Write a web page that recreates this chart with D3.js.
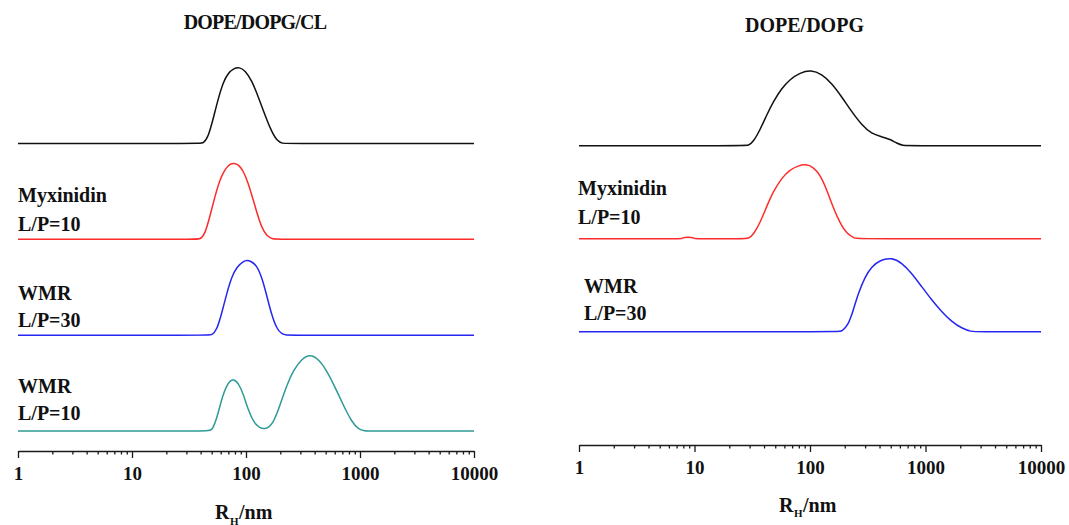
<!DOCTYPE html>
<html>
<head>
<meta charset="utf-8">
<script src="https://cdn.jsdelivr.net/npm/d3@7"></script>
<style>
  html, body { margin: 0; padding: 0; background: #fff; }
  svg { display: block; }
  text { font-family: "Liberation Serif", "Times New Roman", serif; font-weight: bold; fill: #111; }
</style>
</head>
<body>
<svg id="chart" width="1069" height="525"></svg>
<script>
// Hydrodynamic radius distributions (R_H, nm) — intensity in relative units
const panelTitles = ["DOPE/DOPG/CL", "DOPE/DOPG"];
const majorTicks = [1, 10, 100, 1000, 10000];
const minorSteps = [2, 3, 4, 5, 6, 7, 8, 9];

// DOPE/DOPG/CL
const cl_vesicle_rh = [1, 39, 42.2, 46.7, 51.6, 57.1, 63.2, 69.9, 77.4, 87.4, 98, 112.2, 128.3, 146.8, 168, 188.2, 209.9, 227, 10000];
const cl_vesicle_int = [0, 0, 0, 8.8, 33.3, 60, 82.1, 94.1, 100, 102.1, 97.7, 84.4, 62.1, 37.7, 15.5, 3.1, 0, 0, 0];

const cl_myx10_rh = [1, 36.5, 39.5, 43.7, 48.3, 53.5, 59.1, 65.4, 71.5, 78.8, 86.5, 95, 104, 114, 125, 137.3, 151.9, 173.5, 188, 10000];
const cl_myx10_int = [0, 0, 0, 6.7, 31.1, 57.7, 80, 93.5, 100.5, 102, 99.5, 91, 76, 56, 35, 15.6, 4.4, 0, 0, 0];

const cl_wmr30_rh = [1, 46.2, 50.1, 55.4, 61.2, 67.7, 74.9, 82.8, 94.7, 102, 110.6, 124.1, 137.3, 151.9, 168, 185.8, 205.6, 227.5, 246, 10000];
const cl_wmr30_int = [0, 0, 0, 6.7, 28.9, 55.6, 77.7, 91.1, 98.7, 100, 98.7, 93.3, 77.7, 53.3, 26.7, 8.9, 1.3, 0, 0, 0];

const cl_wmr10_rh = [1, 46.2, 50.1, 55.4, 61.2, 67.7, 76.4, 85.6, 94.7, 104.7, 119.9, 146.8, 173.5, 198.7, 227.5, 260.1, 308.2, 364.2, 430.8, 510.3, 603.5, 714.3, 845.4, 966.5, 1106, 1200, 10000];
const cl_wmr10_int = [0, 0, 0, 16.4, 43.1, 61.7, 70.5, 64.4, 49.7, 27.6, 7.6, 0.7, 9.7, 34.3, 60.9, 80.9, 96.4, 102.5, 96.4, 80.9, 58.7, 34.3, 12.4, 2.3, 0, 0, 0];

// DOPE/DOPG
const pg_vesicle_rh = [1, 27, 29.2, 32.3, 36.9, 42.2, 48.1, 56.9, 67.1, 81.9, 102, 126.3, 154.2, 188, 229.6, 280.4, 342, 417.6, 493, 563.4, 642.7, 695, 10000];
const pg_vesicle_int = [0, 0, 0, 5.3, 20.9, 40.9, 58.7, 76.5, 88.5, 97.3, 101, 95.6, 83.2, 65.3, 45.3, 27.6, 15.6, 12, 8.5, 3.2, 0, 0, 0];

const pg_myx10_rh = [1, 7.2, 7.75, 8.1, 9.5, 10.1, 10.8, 27, 29.2, 32.3, 36.9, 42.2, 48.1, 56.9, 67.1, 79.2, 91.8, 106.8, 122.2, 139.6, 159.3, 181.9, 207.9, 245.4, 265, 10000];
const pg_myx10_int = [0, 0, 0, 2, 2, 0, 0, 0, 0, 5.3, 20.9, 43.1, 63.1, 80.9, 92, 97.3, 99.5, 95.6, 85.3, 65.3, 40.9, 20.9, 6.7, 0, 0, 0];

const pg_wmr30_rh = [1, 174, 188, 214.6, 237.3, 262, 299.4, 342, 403.5, 509.8, 622, 760, 927, 1132, 1381, 1687, 2058, 2513, 2720, 10000];
const pg_wmr30_int = [0, 0, 0, 8.9, 28.9, 51.2, 73.3, 86.7, 95.6, 98.8, 92, 77.9, 60, 42.3, 26.7, 13.3, 4.5, 0, 0, 0];

// vertical stacking offsets (same units as intensity)
const cl_offsets = [384, 256, 128, 0];
const pg_offsets = [248, 124, 0];

const cl_labels = [null, ["Myxinidin", "L/P=10"], ["WMR", "L/P=30"], ["WMR", "L/P=10"]];
const pg_labels = [null, ["Myxinidin", "L/P=10"], ["WMR", "L/P=30"]];

const colors = ["#111111", "#ff2b2b", "#2626f2", "#2e9a94"];

const svg = d3.select("#chart");

const panels = [
  {
    title: panelTitles[0], titleX: 255, titleY: 28.5, titleSpacing: -0.8,
    x: d3.scaleLog().domain([1, 10000]).range([18, 474]),
    y: d3.scaleLinear().domain([0, 384]).range([431, 143.5]),
    axisY: 451, rTitleY: 519,
    offsets: cl_offsets, labels: cl_labels, labelX: [0, 18, 18, 18],
    labelDy: [[0, 0], [-37.6, -8.3], [-35, -8], [-38.3, -11]],
    series: [[cl_vesicle_rh, cl_vesicle_int], [cl_myx10_rh, cl_myx10_int], [cl_wmr30_rh, cl_wmr30_int], [cl_wmr10_rh, cl_wmr10_int]]
  },
  {
    title: panelTitles[1], titleX: 804.5, titleY: 31.5, titleSpacing: 0,
    x: d3.scaleLog().domain([1, 10000]).range([579, 1041]),
    y: d3.scaleLinear().domain([0, 248]).range([331.7, 145.7]),
    axisY: 445, rTitleY: 511.7,
    offsets: pg_offsets, labels: pg_labels, labelX: [0, 578, 584],
    labelDy: [[0, 0], [-43.7, -14.7], [-39, -11.7]],
    series: [[pg_vesicle_rh, pg_vesicle_int], [pg_myx10_rh, pg_myx10_int], [pg_wmr30_rh, pg_wmr30_int]]
  }
];

const allTicks = [];
majorTicks.slice(0, -1).forEach(d => { allTicks.push(d); minorSteps.forEach(k => allTicks.push(k * d)); });
allTicks.push(majorTicks[majorTicks.length - 1]);

panels.forEach(p => {
  // panel title
  svg.append("text")
    .attr("x", p.titleX).attr("y", p.titleY)
    .attr("text-anchor", "middle")
    .style("font-size", "20px")
    .style("letter-spacing", p.titleSpacing + "px")
    .text(p.title);

  // traces
  p.series.forEach(([rh, inten], i) => {
    const pts = rh.map((r, j) => [r, inten[j] + p.offsets[i]]);
    const line = d3.line()
      .x(d => p.x(d[0]))
      .y(d => p.y(d[1]))
      .curve(d3.curveBasis);
    svg.append("path")
      .datum(pts)
      .attr("d", line)
      .attr("fill", "none")
      .attr("stroke", colors[i])
      .attr("stroke-width", 1.5)
      .attr("stroke-linejoin", "round");

    const lab = p.labels[i];
    if (lab) {
      const base = p.y(p.offsets[i]);
      lab.forEach((t, k) => {
        svg.append("text")
          .attr("x", p.labelX[i])
          .attr("y", base + p.labelDy[i][k])
          .style("font-size", "20px")
          .text(t);
      });
    }
  });

  // log axis
  const axis = d3.axisBottom(p.x)
    .tickValues(allTicks)
    .tickFormat(d => majorTicks.includes(d) ? String(d) : "")
    .tickSize(7)
    .tickSizeOuter(0)
    .tickPadding(9);
  const g = svg.append("g")
    .attr("transform", `translate(0,${p.axisY})`)
    .call(axis);
  g.select(".domain").attr("stroke", "#1a1a1a").attr("stroke-width", 1.4);
  g.selectAll(".tick line")
    .attr("stroke", "#1a1a1a").attr("stroke-width", 1.3)
    .attr("y2", d => majorTicks.includes(d) ? 7 : 3.5);
  g.selectAll(".tick text")
    .style("font-family", "'Liberation Serif', 'Times New Roman', serif")
    .style("font-weight", "bold")
    .style("font-size", "19px")
    .attr("fill", "#111");

  // axis title R_H/nm
  const t = svg.append("text")
    .attr("x", p.x(100) - 31)
    .attr("y", p.rTitleY)
    .style("font-size", "20px");
  t.append("tspan").text("R");
  t.append("tspan").attr("dx", 0.5).attr("dy", 5.5).style("font-size", "11px").text("H");
  t.append("tspan").attr("dx", 0.5).attr("dy", -5.5).text("/nm");
});
</script>
</body>
</html>
